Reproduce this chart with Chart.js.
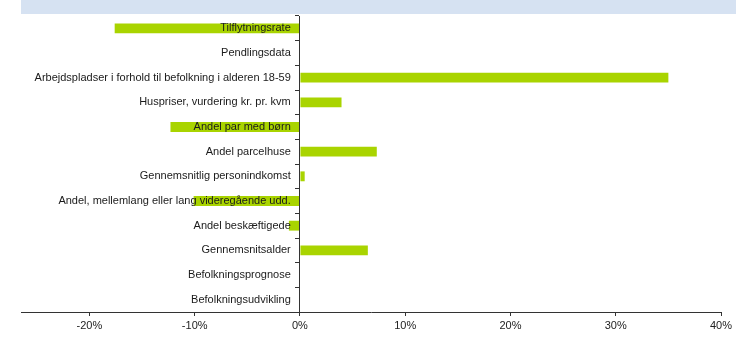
<!DOCTYPE html>
<html><head><meta charset="utf-8">
<script src="https://cdn.jsdelivr.net/npm/chart.js@4/dist/chart.umd.min.js"></script>
<style>html,body{margin:0;padding:0;background:#fff}#wrap{width:753px;height:338px;position:relative}</style>
</head><body><div id="wrap"><canvas id="c" width="753" height="338"></canvas></div>
<script>
const categories = [
  "Tilflytningsrate",
  "Pendlingsdata",
  "Arbejdspladser i forhold til befolkning i alderen 18-59",
  "Huspriser, vurdering kr. pr. kvm",
  "Andel par med børn",
  "Andel parcelhuse",
  "Gennemsnitlig personindkomst",
  "Andel, mellemlang eller lang videregående udd.",
  "Andel beskæftigede",
  "Gennemsnitsalder",
  "Befolkningsprognose",
  "Befolkningsudvikling"
];
const values = [-17.6, 0, 35.0, 3.95, -12.3, 7.3, 0.45, -10.1, -1.05, 6.45, 0, 0];
const xTickValues = [-20, -10, 0, 10, 20, 30, 40];
const xMin = -26.5;
const xMax = 40;

const headerBand = {
  id: 'headerBand',
  beforeDraw(chart) {
    const ctx = chart.ctx;
    ctx.save();
    ctx.fillStyle = '#d6e2f2';
    ctx.fillRect(chart.chartArea.left, 0, 736 - chart.chartArea.left, 14);
    ctx.restore();
  }
};

const font = { family: '"Liberation Sans", Arial, sans-serif', size: 11 };

new Chart(document.getElementById('c'), {
  type: 'bar',
  data: {
    labels: categories,
    datasets: [{
      data: values,
      backgroundColor: '#a9d400',
      borderWidth: 0,
      categoryPercentage: 1,
      barPercentage: 0.4
    }]
  },
  options: {
    indexAxis: 'y',
    responsive: false,
    animation: false,
    devicePixelRatio: 1,
    layout: { padding: { left: 21, right: 32, top: 16, bottom: 0 } },
    plugins: { legend: { display: false }, tooltip: { enabled: false } },
    scales: {
      x: {
        type: 'linear',
        min: xMin,
        max: xMax,
        afterBuildTicks(scale) { scale.ticks = xTickValues.map(v => ({ value: v })); },
        afterFit(scale) { scale.height = 26; },
        grid: { drawOnChartArea: false, drawTicks: true, tickLength: 4, color: '#333' },
        border: { color: '#333', width: 1 },
        ticks: { color: '#222', font: font, padding: 3, maxRotation: 0, callback: v => v + '%' }
      },
      y: {
        type: 'category',
        position: { x: 0 },
        grid: { offset: true, drawOnChartArea: false, drawTicks: true, tickLength: 4, color: '#333' },
        border: { color: '#333', width: 1, z: 1 },
        ticks: { color: '#1a1a1a', font: font, z: 2, autoSkip: false,
                 callback: (v, i) => categories[i] + '   ' }
      }
    }
  },
  plugins: [headerBand]
});
</script></body></html>
